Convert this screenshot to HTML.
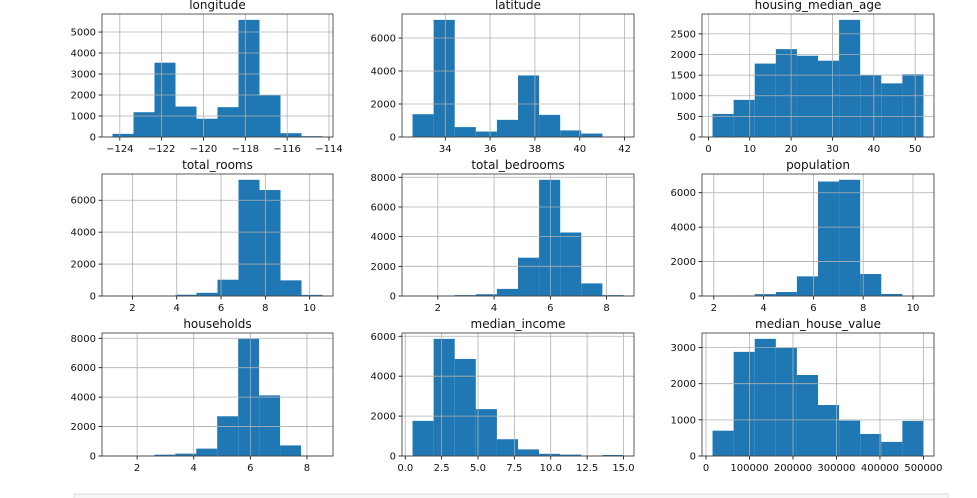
<!DOCTYPE html>
<html><head><meta charset="utf-8">
<style>
html,body{margin:0;padding:0;background:#fff;}
svg{display:block;font-family:"DejaVu Sans","Liberation Sans",sans-serif;}
</style></head>
<body>
<svg id="fig" width="977" height="498" viewBox="0 0 977 498">
<rect x="74" y="494" width="874" height="10" fill="#f7f7f7" stroke="#ddd"/>
</svg>
<script>
const titles = ["longitude","latitude","housing_median_age","total_rooms","total_bedrooms","population","households","median_income","median_house_value"];
const binMin = [-124.35, 32.54, 1, 1.1, 1.1, 1.95, 1.13, 0.5, 14999];
const binMax = [-114.31, 41.95, 52, 10.58, 8.6, 10.42, 8.53, 15.0, 500001];
const counts = [
 [150,1180,3540,1450,870,1420,5580,1990,180,40],
 [1380,7100,600,330,1040,3730,1340,400,210,30],
 [560,900,1780,2130,1970,1850,2840,1500,1300,1520],
 [5,10,30,80,200,1020,7280,6640,980,70],
 [10,20,60,120,480,2580,7830,4280,850,60],
 [10,20,110,230,1140,6650,6750,1280,120,5],
 [5,30,90,160,500,2700,7960,4120,720,30],
 [1760,5870,4860,2350,840,330,110,70,20,50],
 [700,2880,3240,2990,2240,1410,980,610,390,970]
];
const xTicks = [
 [-124,-122,-120,-118,-116,-114],
 [34,36,38,40,42],
 [0,10,20,30,40,50],
 [2,4,6,8,10],
 [2,4,6,8],
 [2,4,6,8,10],
 [2,4,6,8],
 [0,2.5,5,7.5,10,12.5,15],
 [0,100000,200000,300000,400000,500000]
];
const xTickLabels = [
 ["\u2212124","\u2212122","\u2212120","\u2212118","\u2212116","\u2212114"],
 ["34","36","38","40","42"],
 ["0","10","20","30","40","50"],
 ["2","4","6","8","10"],
 ["2","4","6","8"],
 ["2","4","6","8","10"],
 ["2","4","6","8"],
 ["0.0","2.5","5.0","7.5","10.0","12.5","15.0"],
 ["0","100000","200000","300000","400000","500000"]
];
const yTicks = [
 [0,1000,2000,3000,4000,5000],
 [0,2000,4000,6000],
 [0,500,1000,1500,2000,2500],
 [0,2000,4000,6000],
 [0,2000,4000,6000,8000],
 [0,2000,4000,6000],
 [0,2000,4000,6000,8000],
 [0,2000,4000,6000],
 [0,1000,2000,3000]
];
const colL = [102,402,702], colR = [333,634,934];
const rowT = [14,174,333], rowB = [137,296,456];
const NS = "http://www.w3.org/2000/svg";
const fig = document.getElementById('fig');
function mk(tag, attrs, parent){
  const e = document.createElementNS(NS, tag);
  for (const k in attrs) e.setAttribute(k, attrs[k]);
  (parent||fig).appendChild(e);
  return e;
}
titles.forEach((t, i) => {
  const r = Math.floor(i/3), c = i%3;
  const L = colL[c], R = colR[c], T = rowT[r], B = rowB[r];
  const cnt = counts[i];
  let lo = binMin[i], hi = binMax[i];
  const span = hi - lo;
  let dMin = lo - 0.05*span, dMax = hi + 0.05*span;
  if (i === 6) { dMin = 0.76; dMax = 8.92; }
  const yMax = Math.max(...cnt) * 1.05;
  const sx = v => L + (v - dMin) / (dMax - dMin) * (R - L);
  const sy = v => B - v / yMax * (B - T);
  const g = mk('g', {});
  
  
  const w = span / cnt.length;
  cnt.forEach((v, k) => {
    const x0 = sx(lo + k*w), x1 = sx(lo + (k+1)*w);
    const b = mk('rect', {x: x0, y: sy(v), width: x1 - x0, height: B - sy(v), fill: '#1f77b4'}, g);
    
    
  });
  xTicks[i].forEach((v, k) => {
    const x = sx(v);
    const gl = mk('line', {x1: x, x2: x, y1: T, y2: B, stroke: '#b0b0b0', 'stroke-width': 0.8}, g);
    
    
    mk('line', {x1: x, x2: x, y1: B, y2: B+3.5, stroke: '#000', 'stroke-width': 0.8}, g);
    const tx = mk('text', {x: x, y: B + 15, 'font-size': 10, 'text-anchor': 'middle', fill: '#111'}, g);
    tx.textContent = xTickLabels[i][k];
    
    
  });
  yTicks[i].forEach(v => {
    const y = sy(v);
    const gl = mk('line', {x1: L, x2: R, y1: y, y2: y, stroke: '#b0b0b0', 'stroke-width': 0.8}, g);
    
    
    mk('line', {x1: L-3.5, x2: L, y1: y, y2: y, stroke: '#000', 'stroke-width': 0.8}, g);
    const ty = mk('text', {x: L - 6, y: y + 3.5, 'font-size': 10, 'text-anchor': 'end', fill: '#111'}, g);
    ty.textContent = String(v);
    
    
  });
  const fr = mk('rect', {x: L, y: T, width: R - L, height: B - T, fill: 'none', stroke: '#333', 'stroke-width': 0.8}, g);
  
  
  const tt = mk('text', {x: (L + R)/2, y: T - 5, 'font-size': 12, 'text-anchor': 'middle', fill: '#111'}, g);
  tt.textContent = t;
  
  
});
</script>
</body></html>
